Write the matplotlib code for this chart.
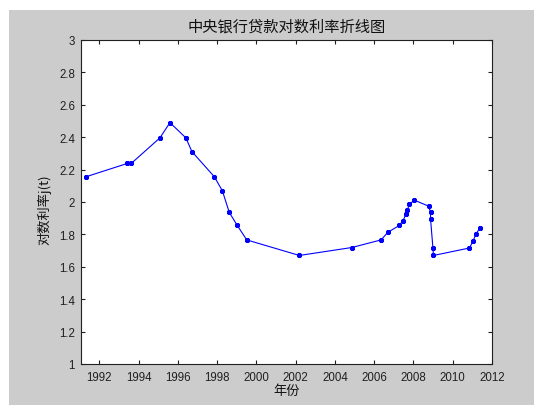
import matplotlib
matplotlib.use("Agg")
import matplotlib.pyplot as plt
from matplotlib.patches import Rectangle

# decimal years of each lending-rate change and the log of the 1-year rate
years = [1991.33, 1993.43, 1993.63, 1995.09, 1995.60, 1996.41, 1996.72,
         1997.86, 1998.27, 1998.62, 1999.03, 1999.51, 2002.19, 2004.86,
         2006.35, 2006.69, 2007.27, 2007.46, 2007.61, 2007.69, 2007.79,
         2008.05, 2008.78, 2008.87, 2008.87, 2008.99, 2009.02, 2010.85,
         2011.04, 2011.18, 2011.40]
log_rate = [2.156, 2.238, 2.238, 2.396, 2.490, 2.396, 2.311,
            2.156, 2.069, 1.936, 1.855, 1.766, 1.670, 1.719,
            1.766, 1.812, 1.855, 1.883, 1.923, 1.949, 1.987,
            2.011, 1.974, 1.936, 1.896, 1.719, 1.670, 1.716,
            1.760, 1.802, 1.842]
xticks = list(range(1992, 2013, 2))
yticks = [1 + 0.2 * i for i in range(11)]

CJK = ["Noto Sans CJK SC", "DejaVu Sans"]
plt.rcParams["font.family"] = ["Liberation Sans", "DejaVu Sans"]

fig = plt.figure(figsize=(5.34, 4.06), dpi=100, facecolor="white")
# grey figure panel behind the axes
fig.patches.append(Rectangle((9 / 534, 0), 1 - 9 / 534, (406 - 11) / 406,
                             transform=fig.transFigure, facecolor="#cccccc",
                             edgecolor="none", zorder=-10))

ax = fig.add_axes([80.6 / 534, 41 / 406, 411.4 / 534, 324 / 406])
ax.set_facecolor("white")

ax.plot(years, log_rate, color="#0000ff", linewidth=0.8,
        marker=(8, 2, 0), markersize=3.6, markeredgewidth=1.0,
        markeredgecolor="#0000ff")

ax.set_xlim(1991.05, 2012)
ax.set_ylim(1, 3)
ax.set_xticks(xticks)
ax.set_yticks(yticks)
ax.set_yticklabels([f"{round(t, 1):g}" for t in yticks])

ax.tick_params(direction="in", length=3, width=0.8, top=True, right=True,
               labelsize=8.3, colors="#202020", pad=5)
ax.tick_params(axis="y", pad=4)
for s in ax.spines.values():
    s.set_linewidth(0.8)
    s.set_color("#202020")

ax.set_title("中央银行贷款对数利率折线图", family=CJK, fontsize=11,
             color="#111111", pad=7)
ax.set_xlabel("年份", family=CJK, fontsize=9.5, color="#111111", labelpad=1)
ax.set_ylabel("对数利率j(t)", family=CJK, fontsize=9.5, color="#111111")
ax.yaxis.set_label_coords(-0.07, 0.478)

fig.savefig("out.png", dpi=100, facecolor="white")
